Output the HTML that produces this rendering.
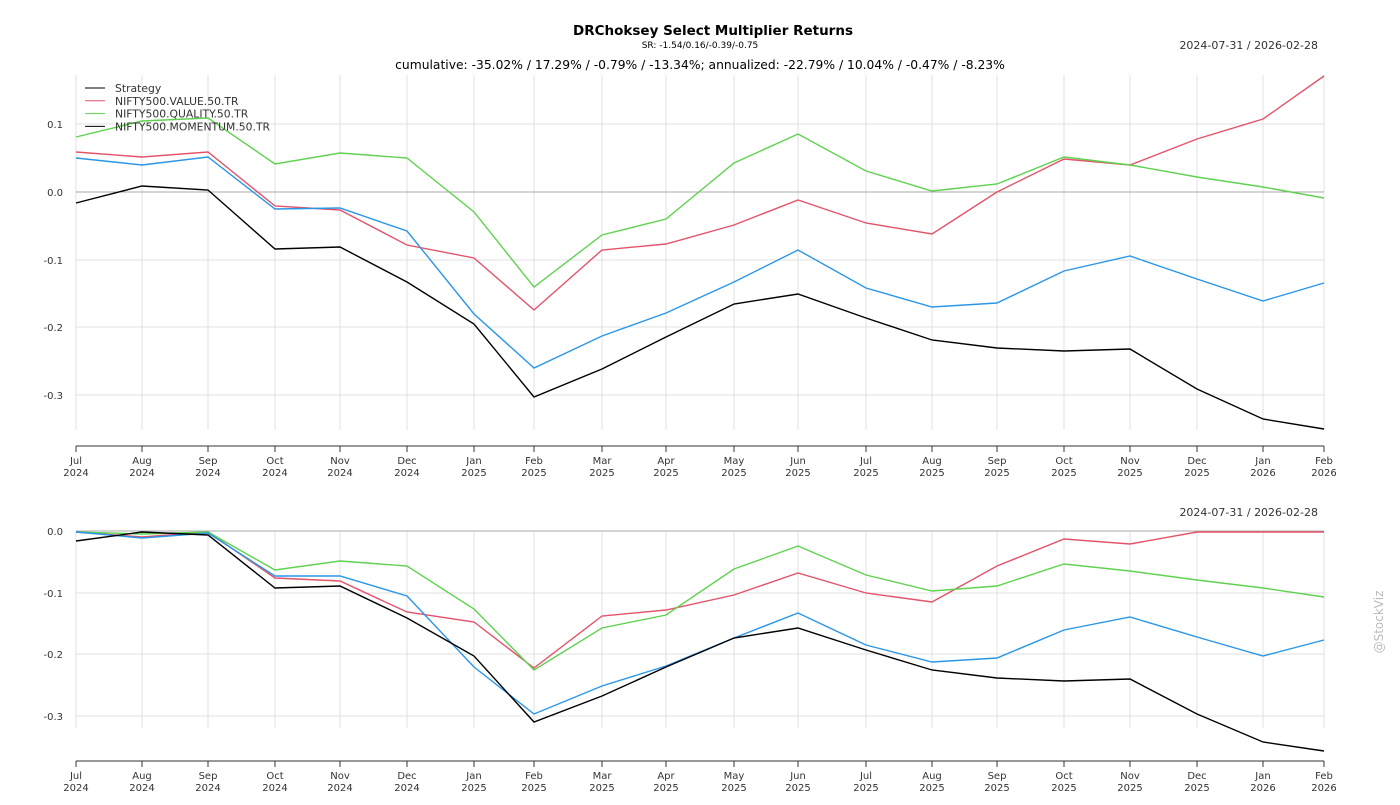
<!DOCTYPE html>
<html><head><meta charset="utf-8"><style>
body{margin:0;background:#fff;}
svg text{font-family:"DejaVu Sans","Liberation Sans",sans-serif;}
</style></head><body>
<svg width="1400" height="800" xmlns="http://www.w3.org/2000/svg">
<rect width="1400" height="800" fill="#fff"/>
<text x="713" y="35" text-anchor="middle" font-size="13.5" font-weight="bold">DRChoksey Select Multiplier Returns</text>
<text x="700" y="48" text-anchor="middle" font-size="9">SR: -1.54/0.16/-0.39/-0.75</text>
<text x="1318" y="49" text-anchor="end" font-size="11" fill="#333">2024-07-31 / 2026-02-28</text>
<text x="700" y="69" text-anchor="middle" font-size="12.3">cumulative: -35.02% / 17.29% / -0.79% / -13.34%; annualized: -22.79% / 10.04% / -0.47% / -8.23%</text>
<text x="1318" y="516" text-anchor="end" font-size="11" fill="#333">2024-07-31 / 2026-02-28</text>
<text x="1383" y="622" text-anchor="middle" font-size="12" fill="#bbb" transform="rotate(-90 1383 622)">@StockViz</text>
</svg>
<script>
const xs=[76,142,208,275,340,407,474,534,602,666,734,798,866,932,997,1064,1130,1197,1263,1324];
const mon=["Jul","Aug","Sep","Oct","Nov","Dec","Jan","Feb","Mar","Apr","May","Jun","Jul","Aug","Sep","Oct","Nov","Dec","Jan","Feb"];
const yr=["2024","2024","2024","2024","2024","2024","2025","2025","2025","2025","2025","2025","2025","2025","2025","2025","2025","2025","2026","2026"];
const svg=document.querySelector('svg');const NS="http://www.w3.org/2000/svg";
function el(t,a,txt){const e=document.createElementNS(NS,t);for(const k in a)e.setAttribute(k,a[k]);if(txt!=null)e.textContent=txt;svg.appendChild(e);return e;}
function panel(gy0,gy1,axisY,hlines,zeroY,series){
 xs.forEach(x=>el('line',{x1:x,x2:x,y1:gy0,y2:gy1,stroke:'#e0e0e0','stroke-width':1}));
 hlines.forEach(h=>{el('line',{x1:76,x2:1324,y1:h[0],y2:h[0],stroke:h[1]=='0.0'?'#aaa':'#e0e0e0','stroke-width':1});
  el('text',{x:63,y:h[0]+4,'text-anchor':'end','font-size':10,fill:'#333'},h[1]);});
 el('line',{x1:76,x2:1324,y1:axisY,y2:axisY,stroke:'#333','stroke-width':1});
 xs.forEach((x,i)=>{el('line',{x1:x,x2:x,y1:axisY,y2:axisY+6,stroke:'#333'});
  el('text',{x:x,y:axisY+18,'text-anchor':'middle','font-size':10,fill:'#333'},mon[i]);
  el('text',{x:x,y:axisY+30,'text-anchor':'middle','font-size':10,fill:'#333'},yr[i]);});
 series.forEach(s=>el('polyline',{points:s[1].map((y,i)=>xs[i]+','+y).join(' '),fill:'none',stroke:s[0],'stroke-width':1.4}));
}
const C={k:'#000',r:'#e4536b',g:'#5fd24f',b:'#2a96e8'};
panel(75,430,446,[[124,'0.1'],[192,'0.0'],[260,'-0.1'],[327,'-0.2'],[395,'-0.3']],192,[
[C.r,[152,157,152,206,210,245,258,310,250,244,225,200,223,234,192,159,165,139,119,76]],
[C.g,[137,121,118,164,153,158,212,287,235,219,163,134,171,191,184,157,165,177,187,198]],
[C.b,[158,165,157,209,208,231,314,368,336,313,282,250,288,307,303,271,256,279,301,283]],
[C.k,[203,186,190,249,247,282,324,397,369,337,304,294,318,340,348,351,349,389,419,429]]]);
panel(531,728,761,[[531,'0.0'],[593,'-0.1'],[654,'-0.2'],[716,'-0.3']],531,[
[C.r,[532,537,532,578,581,612,622,668,616,610,595,573,593,602,566,539,544,532,532,532]],
[C.g,[532,534,532,570,561,566,609,670,628,615,569,546,575,591,586,564,571,580,588,597]],
[C.b,[532,538,533,576,576,596,667,714,686,666,638,613,645,662,658,630,617,637,656,640]],
[C.k,[541,532,535,588,586,618,656,722,696,667,638,628,650,670,678,681,679,714,742,751]]]);
const leg=[['Strategy',C.k],['NIFTY500.VALUE.50.TR',C.r],['NIFTY500.QUALITY.50.TR',C.g],['NIFTY500.MOMENTUM.50.TR',C.k]];
leg.forEach((l,i)=>{const y=88+i*12.8;el('line',{x1:85,x2:105,y1:y,y2:y,stroke:l[1],'stroke-width':1});
 el('text',{x:115,y:y+4,'font-size':10.8,fill:'#333'},l[0]);});
</script>
</body></html>
